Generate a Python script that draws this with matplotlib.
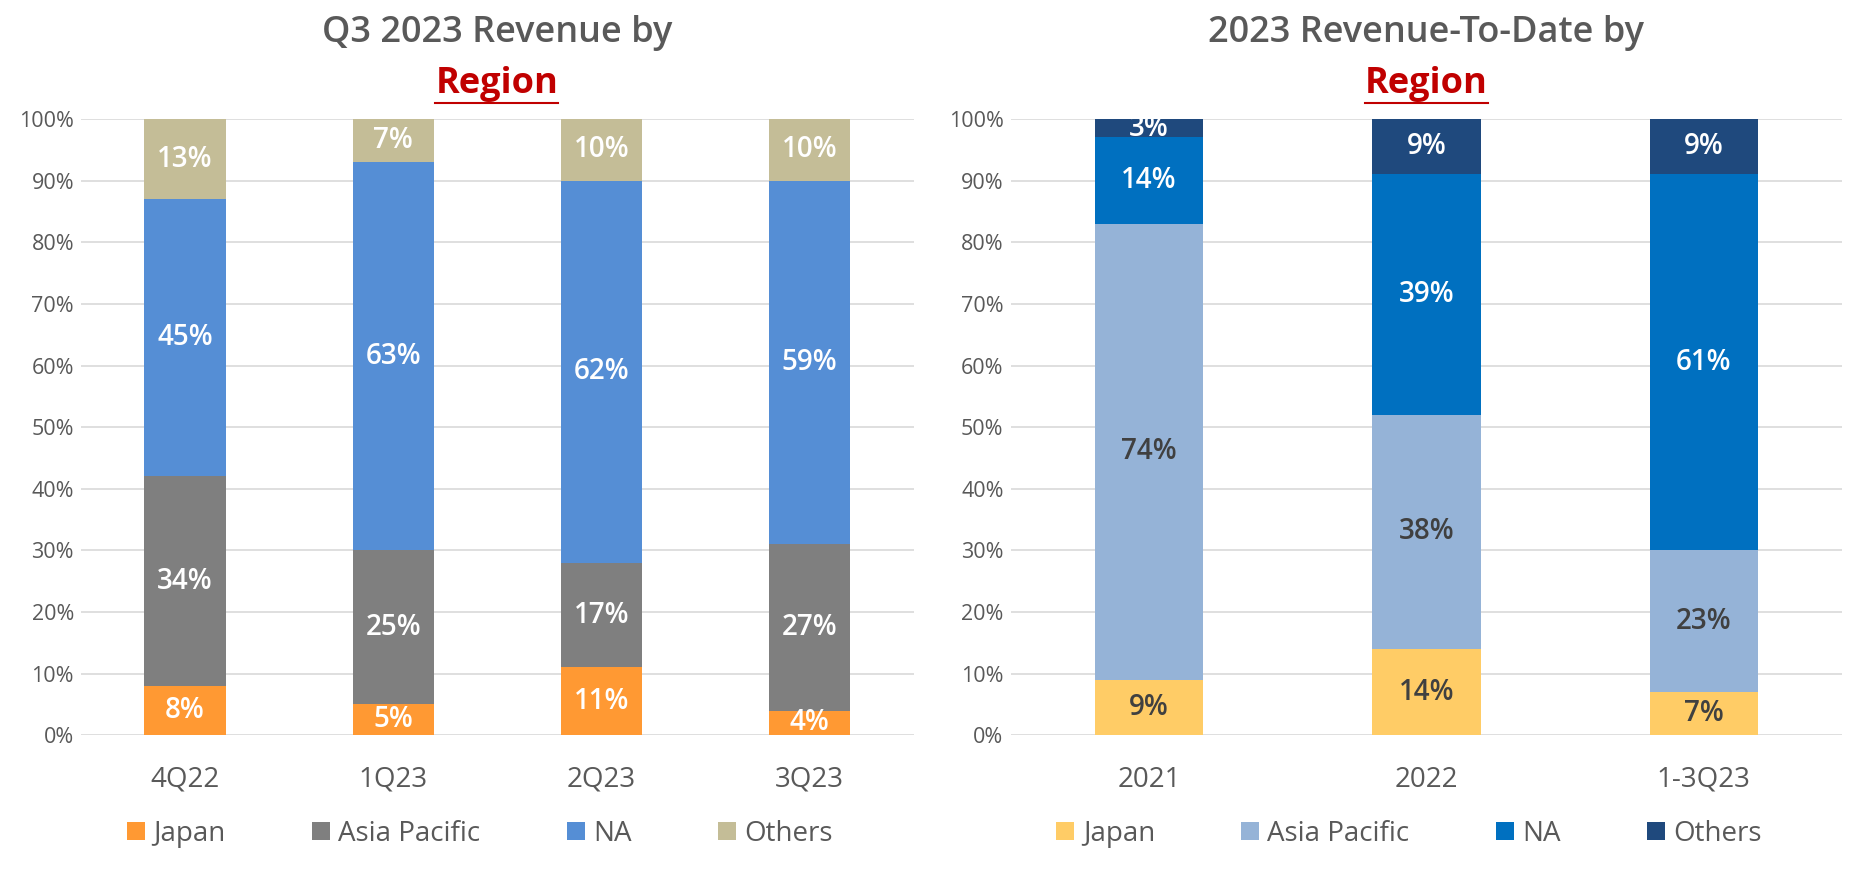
import matplotlib
matplotlib.use("Agg")
import matplotlib.pyplot as plt
import matplotlib.ticker as ticker
from matplotlib.lines import Line2D
import numpy as np

plt.rcParams["font.family"] = ["Open Sans", "DejaVu Sans"]

regions = ["Japan", "Asia Pacific", "NA", "Others"]

# left chart: quarterly share
quarters = ["4Q22", "1Q23", "2Q23", "3Q23"]
q_japan = [8, 5, 11, 4]
q_asia = [34, 25, 17, 27]
q_na = [45, 63, 62, 59]
q_others = [13, 7, 10, 10]

# right chart: yearly share
years = ["2021", "2022", "1-3Q23"]
y_japan = [9, 14, 7]
y_asia = [74, 38, 23]
y_na = [14, 39, 61]
y_others = [3, 9, 9]

left_colors = ["#FF9933", "#7F7F7F", "#558ED5", "#C4BD97"]
left_text = ["white", "white", "white", "white"]
right_colors = ["#FFCC66", "#95B3D7", "#0070C0", "#1F497D"]
right_text = ["#404040", "#404040", "white", "white"]

GRAY = "#595959"
RED = "#C00000"

fig = plt.figure(figsize=(18.61, 8.88), dpi=100)
ax_l = fig.add_axes([0.0435, 0.172, 0.4475, 0.694])
ax_r = fig.add_axes([0.543, 0.172, 0.447, 0.694])


def stacked(ax, cats, series, colors, txtcolors):
    x = np.arange(len(cats))
    bottom = np.zeros(len(cats))
    handles = []
    for vals, col, tc, name in zip(series, colors, txtcolors, regions):
        vals = np.array(vals, dtype=float)
        b = ax.bar(x, vals, 0.39, bottom=bottom, color=col, label=name, zorder=3)
        handles.append(b)
        for xi, v, bt in zip(x, vals, bottom):
            ax.text(xi, bt + v / 2, f"{int(v)}%", ha="center", va="center",
                    color=tc, fontsize=20, fontweight=600, zorder=4)
        bottom += vals
    ax.set_xlim(-0.5, len(cats) - 0.5)
    ax.set_ylim(0, 100)
    ax.set_xticks(x)
    ax.set_xticklabels(cats, fontsize=20, color=GRAY)
    ax.yaxis.set_major_locator(ticker.MultipleLocator(10))
    ax.yaxis.set_major_formatter(ticker.FuncFormatter(lambda v, p: f"{int(v)}%"))
    ax.tick_params(axis="y", labelsize=15.5, labelcolor=GRAY, length=0, pad=5)
    ax.tick_params(axis="x", length=0, pad=22)
    ax.grid(axis="y", color="#D9D9D9", linewidth=1.2, zorder=0)
    for s in ax.spines.values():
        s.set_visible(False)
    leg = ax.legend(handles=handles, loc="center", bbox_to_anchor=(0.479, -0.16),
                    ncol=4, frameon=False, fontsize=20, handlelength=0.65,
                    handleheight=0.65, handletextpad=0.3, columnspacing=3.1)
    for t in leg.get_texts():
        t.set_color(GRAY)


stacked(ax_l, quarters, [q_japan, q_asia, q_na, q_others], left_colors, left_text)
stacked(ax_r, years, [y_japan, y_asia, y_na, y_others], right_colors, right_text)

titles = [("Q3 2023 Revenue by", 0.267), ("2023 Revenue-To-Date by", 0.7665)]
reg_texts = []
for t, cx in titles:
    fig.text(cx, 0.963, t, ha="center", va="center", fontsize=26, color=GRAY,
             fontweight=600)
    reg_texts.append(fig.text(cx, 0.905, "Region", ha="center", va="center",
                              fontsize=26, color=RED, fontweight="bold"))

# underline under "Region"
fig.canvas.draw()
rend = fig.canvas.get_renderer()
inv = fig.transFigure.inverted()
for rt in reg_texts:
    bb = rt.get_window_extent(rend).transformed(inv)
    fig.add_artist(Line2D([bb.x0, bb.x1], [0.884, 0.884], color=RED,
                          linewidth=1.5, transform=fig.transFigure))

fig.savefig("out.png", dpi=100)
